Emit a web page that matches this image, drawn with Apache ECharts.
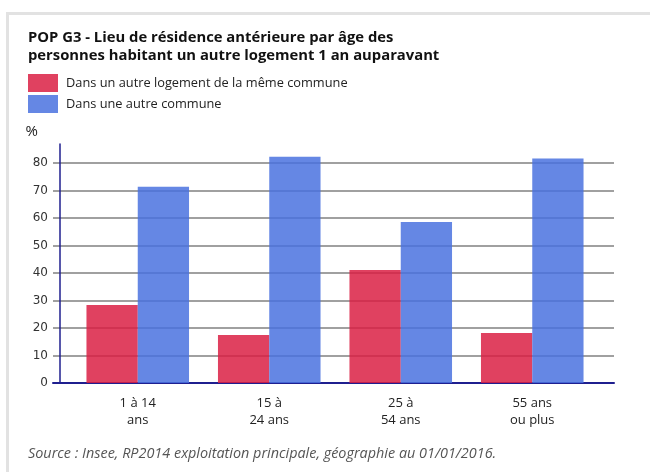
<!DOCTYPE html>
<html>
<head>
<meta charset="utf-8">
<script src="https://cdn.jsdelivr.net/npm/echarts@6/dist/echarts.min.js"></script>
<style>
  html, body { margin: 0; padding: 0; background: #fff; }
  #chart { width: 650px; height: 475px; }
</style>
</head>
<body>
<div id="chart"></div>
<script>
const categories = ['1 à 14\nans', '15 à\n24 ans', '25 à\n54 ans', '55 ans\nou plus']
const memeCommune = [28.4, 17.5, 41.1, 18.2]
const autreCommune = [71.4, 82.4, 58.6, 81.7]
const seriesNames = ['Dans un autre logement de la même commune', 'Dans une autre commune']

const chart = echarts.init(document.getElementById('chart'))
const navy = '#1f1f8f'

chart.setOption({
  animation: false,
  textStyle: { fontFamily: 'Open Sans' },
  title: [
    {
      text: 'POP G3 - Lieu de résidence antérieure par âge des\npersonnes habitant un autre logement 1 an auparavant',
      left: 28,
      top: 29,
      padding: 0,
      textStyle: { fontSize: 14.8, fontWeight: 'bold', color: '#111', lineHeight: 18 }
    },
    {
      text: 'Source : Insee, RP2014 exploitation principale, géographie au 01/01/2016.',
      left: 28,
      top: 447,
      padding: 0,
      textStyle: { fontSize: 14.4, fontWeight: 'normal', fontStyle: 'italic', color: '#555' }
    }
  ],
  // cadre gris
  graphic: [
    { type: 'rect', shape: { x: 6, y: 12, width: 644, height: 3 }, style: { fill: '#e2e2e2' } },
    { type: 'rect', shape: { x: 6, y: 12, width: 3, height: 460 }, style: { fill: '#e2e2e2' } }
  ],
  legend: {
    orient: 'vertical',
    left: 28,
    top: 74,
    padding: 0,
    icon: 'rect',
    itemWidth: 30,
    itemHeight: 18,
    itemGap: 3,
    data: seriesNames,
    textStyle: { fontSize: 12.8, color: '#222', padding: [0, 0, 0, 3] }
  },
  grid: [
    { left: 53, right: 36, top: 144, bottom: 92 },
    { left: 72, right: 52, top: 144, bottom: 92 }
  ],
  xAxis: [
    {
      gridIndex: 0,
      type: 'category',
      data: categories,
      axisLine: { lineStyle: { color: navy, width: 2 } },
      axisTick: { show: false },
      axisLabel: { show: false }
    },
    {
      gridIndex: 1,
      type: 'category',
      data: categories,
      axisLine: { show: false },
      axisTick: { show: false },
      axisLabel: { margin: 12, fontSize: 13, color: '#222', lineHeight: 17 }
    }
  ],
  yAxis: [
    {
      gridIndex: 0,
      type: 'value',
      min: 0,
      max: 87,
      interval: 10,
      offset: -7,
      name: '%',
      nameLocation: 'end',
      nameGap: 5,
      nameTextStyle: { align: 'right', padding: [0, 22, 0, 0], fontSize: 15, color: '#222' },
      axisLine: { show: true, lineStyle: { color: navy, width: 1.5 } },
      axisTick: { show: false },
      axisLabel: { showMaxLabel: false, margin: 12, fontSize: 12, color: '#333', fontFamily: 'DejaVu Sans' },
      splitLine: { showMaxLine: false, lineStyle: { color: '#808080', width: 1.6 } }
    },
    {
      gridIndex: 1,
      type: 'value',
      min: 0,
      max: 87,
      show: false,
      splitLine: { show: false }
    }
  ],
  series: [
    {
      name: seriesNames[0],
      type: 'bar',
      xAxisIndex: 1,
      yAxisIndex: 1,
      data: memeCommune,
      barGap: 0,
      barCategoryGap: '22%',
      itemStyle: { color: 'rgb(219,32,68)', opacity: 0.85 }
    },
    {
      name: seriesNames[1],
      type: 'bar',
      xAxisIndex: 1,
      yAxisIndex: 1,
      data: autreCommune,
      barGap: 0,
      barCategoryGap: '22%',
      itemStyle: { color: 'rgb(74,114,223)', opacity: 0.85 }
    }
  ]
})
</script>
</body>
</html>
